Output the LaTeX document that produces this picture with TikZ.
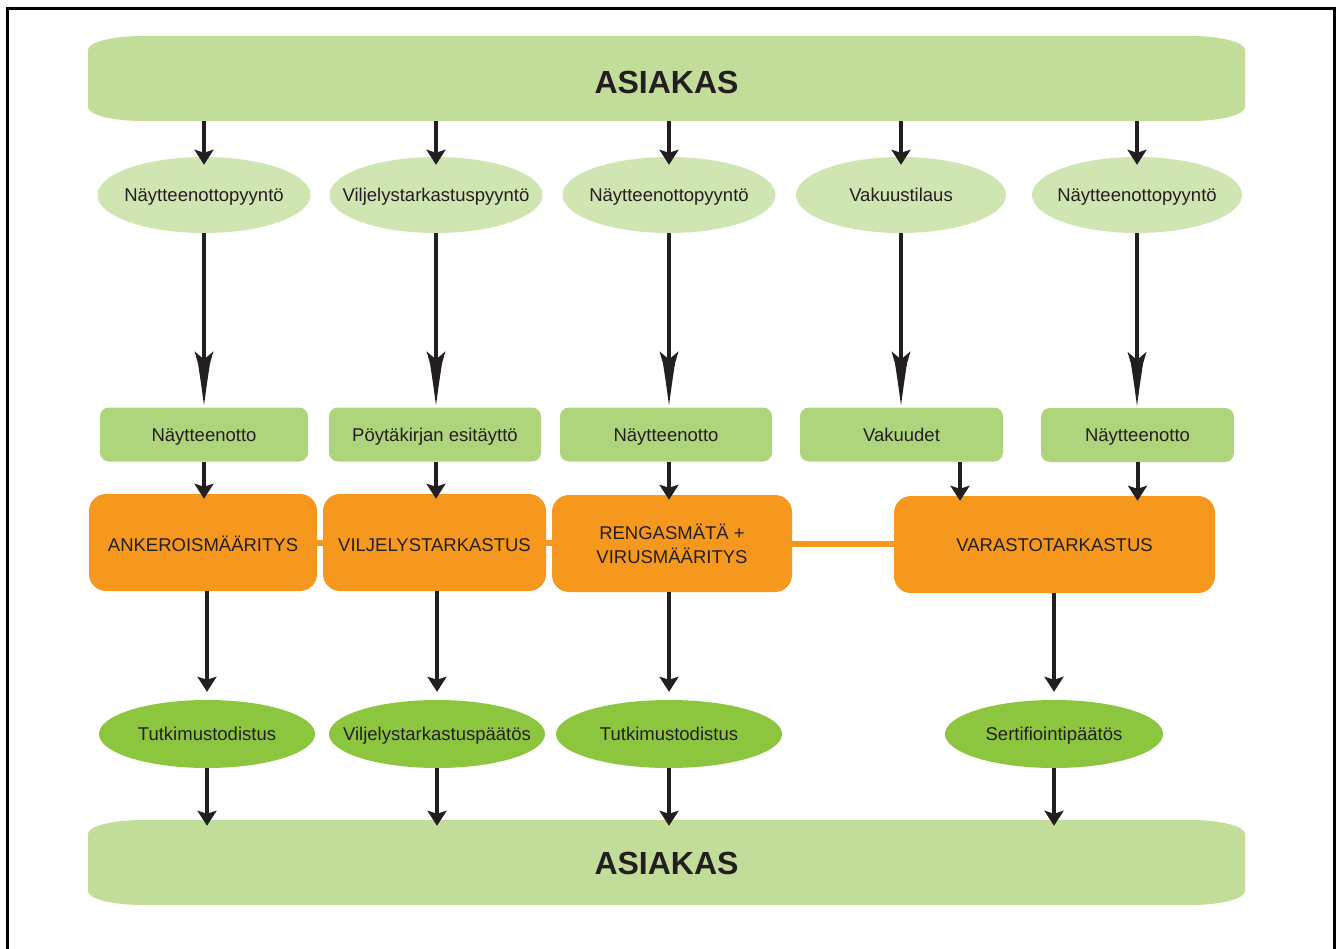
\documentclass[tikz,border=0pt]{standalone}
\usepackage{fontspec}
\setmainfont{Liberation Sans}
\usetikzlibrary{arrows.meta,shapes.geometric,calc}
\definecolor{ink}{HTML}{231F20}
\definecolor{banc}{HTML}{C2DC99}
\definecolor{reqc}{HTML}{D0E6B2}
\definecolor{stepc}{HTML}{AED57B}
\definecolor{orng}{HTML}{F7981E}
\definecolor{resc}{HTML}{8CC63F}
\newcommand\zw[1]{\makebox[0pt][c]{#1}}
\tikzset{
  lab/.style={font=\fontsize{18.5}{24}\selectfont, text=ink, text height=17pt, text depth=3.8pt},
  req/.style={ellipse, fill=reqc, minimum width=213pt, minimum height=76pt, inner sep=0pt, lab},
  stepbox/.style={rectangle, rounded corners=9pt, fill=stepc, minimum height=54pt, inner sep=0pt, lab},
  proc/.style={rectangle, rounded corners=17pt, fill=orng, minimum height=97pt, inner sep=0pt, lab, align=center},
  lowtext/.style={text height=22pt, text depth=3.8pt},
  res/.style={ellipse, fill=resc, minimum width=216pt, minimum height=68pt, inner sep=0pt, lab},
  bantext/.style={rectangle, minimum width=1157pt, minimum height=85pt, inner sep=0pt,
     font=\fontsize{32}{36}\bfseries\selectfont, text=ink, text height=30pt, text depth=0pt},
  arr/.style={line width=4pt, draw=ink, -{Stealth[length=15pt,width=19pt,inset=3pt]}},
  link/.style={line width=6pt, draw=orng},
  frame/.style={line width=3pt, draw=black},
}
% banner shape: #1 top y, #2 bottom y (pixel units, y downward)
\newcommand\bannershape[2]{%
  \fill[banc] (143,#1) -- (1190,#1)
    .. controls (1220,#1) and (1245,#1+6) .. (1245,#1+14) -- (1245,#2-14)
    .. controls (1245,#2-6) and (1220,#2) .. (1190,#2) -- (143,#2)
    .. controls (113,#2) and (88,#2-6) .. (88,#2-14) -- (88,#1+14)
    .. controls (88,#1+6) and (113,#1) .. (143,#1) -- cycle;}
% fletched arrow from node #1 (south) to node #2 (north)
\newcommand\fletch[2]{%
  \draw[line width=4.5pt, draw=ink] (#1.south) -- ($(#1.south |- #2.north)+(0,-48)$);
  \fill[ink] ($(#1.south |- #2.north)+(-2.5,-50)$) -- ++(-7,-6)
     -- ++(3.5,12) -- ++(1.5,10) -- ++(1.5,10) -- ++(1.5,11) -- ++(1.5,11)
     -- ++(1.5,-11) -- ++(1.5,-11) -- ++(1.5,-10) -- ++(1.5,-10) -- ++(3.5,-12) -- ++(-7,6) -- cycle;}
\begin{document}
\begin{tikzpicture}[x=1pt,y=-1pt]
\useasboundingbox (0,0) rectangle (1341,949);
\fill[white] (0,0) rectangle (1341,949);
\begin{scope}
\clip (0,0) rectangle (1341,949);
\draw[frame] (7,970) -- (7,9) -- (1334,9) -- (1334,970);
\end{scope}
% banners
\bannershape{36}{121}
\bannershape{820}{905}
\node[bantext] (top) at (666.5,78.5) {ASIAKAS};
\node[bantext, text height=23pt] (bot) at (666.5,862.5) {ASIAKAS};
% row 1 requests
\node[req] (r1) at (204,195) {\zw{Näytteenottopyyntö}};
\node[req] (r2) at (436,195) {\zw{Viljelystarkastuspyyntö}};
\node[req] (r3) at (669,195) {\zw{Näytteenottopyyntö}};
\node[req, minimum width=210pt] (r4) at (901,195) {\zw{Vakuustilaus}};
\node[req, minimum width=210pt] (r5) at (1137,195) {\zw{Näytteenottopyyntö}};
% row 2 steps
\node[stepbox, minimum width=208pt] (s1) at (204,434.5) {Näytteenotto};
\node[stepbox, minimum width=212pt] (s2) at (435,434.5) {Pöytäkirjan esitäyttö};
\node[stepbox, minimum width=212pt] (s3) at (666,434.5) {Näytteenotto};
\node[stepbox, minimum width=203pt] (s4) at (901.5,434.5) {Vakuudet};
\node[stepbox, minimum width=193pt] (s5) at (1137.5,435) {Näytteenotto};
% row 3 processes
\node[proc, lowtext, minimum width=228pt] (o1) at (203,542.5) {ANKEROISMÄÄRITYS};
\node[proc, lowtext, minimum width=223pt] (o2) at (434.5,542.5) {VILJELYSTARKASTUS};
\node[proc, text height={}, text depth={}, minimum width=240pt] (o3) at (672,543.5) {RENGASMÄTÄ +\\VIRUSMÄÄRITYS};
\node[proc, minimum width=321pt] (o4) at (1054.5,544.5) {VARASTOTARKASTUS};
% row 4 results
\node[res] (t1) at (207,734) {\zw{Tutkimustodistus}};
\node[res] (t2) at (437,734) {\zw{Viljelystarkastuspäätös}};
\node[res, minimum width=226pt] (t3) at (669,734) {\zw{Tutkimustodistus}};
\node[res, minimum width=218pt] (t4) at (1054,734) {\zw{Sertifiointipäätös}};
% links between processes
\draw[link] (o1.east) -- (o2.west);
\draw[link] (o2.east) -- (o2.east -| o3.west);
\draw[link] (o3.east) -- (o3.east -| o4.west);
% customer -> requests
\foreach \r in {r1,r2,r3,r4,r5}
  \draw[arr] (top.south -| \r.south) -- ([yshift=-8pt]\r.north);
% requests -> steps
\fletch{r1}{s1}
\fletch{r2}{s2}
\fletch{r3}{s3}
\fletch{r4}{s4}
\fletch{r5}{s5}
% steps -> processes
\draw[arr] (s1.south) -- ([yshift=-5pt]s1.south |- o1.north);
\draw[arr] (s2.south -| r2.south) -- ([yshift=-5pt]r2.south |- o2.north);
\draw[arr] (s3.south -| r3.south) -- ([yshift=-5pt]r3.south |- o3.north);
\draw[arr] ([xshift=58.5pt]s4.south) -- ([xshift=58.5pt,yshift=-5pt]s4.south |- o4.north);
\draw[arr] (s5.south) -- ([yshift=-5pt]s5.south |- o4.north);
% processes -> results
\draw[arr] (o1.south -| t1.north) -- ([yshift=8pt]t1.north);
\draw[arr] (o2.south -| t2.north) -- ([yshift=8pt]t2.north);
\draw[arr] (o3.south -| t3.north) -- ([yshift=8pt]t3.north);
\draw[arr] (o4.south -| t4.north) -- ([yshift=8pt]t4.north);
% results -> customer
\foreach \t in {t1,t2,t3,t4}
  \draw[arr] (\t.south) -- ([yshift=-6pt]bot.north -| \t.south);
\end{tikzpicture}
\end{document}
